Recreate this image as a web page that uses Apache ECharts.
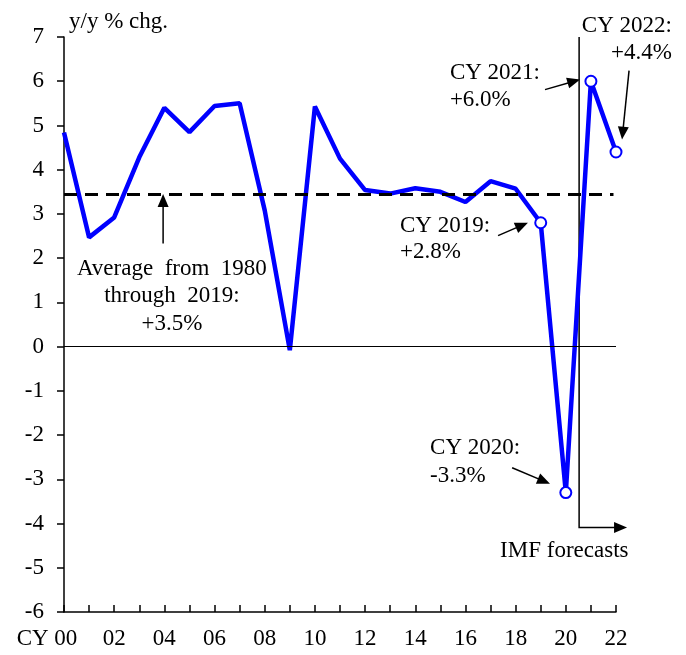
<!DOCTYPE html>
<html>
<head>
<meta charset="utf-8">
<script src="https://cdn.jsdelivr.net/npm/echarts@6/dist/echarts.min.js"></script>
<style>
  html, body { margin: 0; padding: 0; background: #fff; }
  #chart { width: 686px; height: 655px; }
</style>
</head>
<body>
<div id="chart"></div>
<script>
// world real GDP, y/y % chg.
const years = [2000, 2001, 2002, 2003, 2004, 2005, 2006, 2007, 2008, 2009, 2010, 2011,
  2012, 2013, 2014, 2015, 2016, 2017, 2018, 2019, 2020, 2021, 2022]
const growth = [4.84, 2.47, 2.92, 4.28, 5.40, 4.85, 5.44, 5.50, 3.08, -0.08, 5.43, 4.25,
  3.54, 3.46, 3.58, 3.50, 3.27, 3.74, 3.57, 2.8, -3.3, 6.0, 4.4]
const tickLabels = ['00', '', '02', '', '04', '', '06', '', '08', '', '10', '',
  '12', '', '14', '', '16', '', '18', '', '20', '', '22']
const average = 3.45
const firstMarked = 19 // circles from CY 2019 on

const FONT = 'Liberation Serif'
const FS = 23

const chart = echarts.init(document.getElementById('chart'))

const option = {
  animation: false,
  textStyle: { fontFamily: FONT },
  grid: { left: 64, right: 70, top: 37, bottom: 43 },
  xAxis: {
    type: 'value',
    min: 2000,
    max: 2022,
    interval: 1,
    axisLine: { onZero: false, lineStyle: { color: '#000', width: 1.5 } },
    axisTick: { inside: true, length: 7, lineStyle: { color: '#000', width: 1.5 } },
    splitLine: { show: false },
    axisLabel: {
      color: '#000',
      fontSize: FS,
      fontFamily: FONT,
      margin: 15,
      formatter: (v) => {
        const i = years.indexOf(v)
        if (i === 0) return '{cy|CY }' + tickLabels[0] + '{pad| }'
        return i >= 0 ? tickLabels[i] : ''
      },
      rich: {
        cy: { fontSize: FS, fontFamily: FONT, color: '#000' },
        pad: { width: 34, fontSize: FS },
      },
    },
  },
  yAxis: {
    type: 'value',
    min: -6,
    max: 7,
    interval: 1,
    axisLine: { show: true, lineStyle: { color: '#000', width: 1.5 } },
    axisTick: { show: true, length: 7, lineStyle: { color: '#000', width: 1.5 } },
    splitLine: { show: false },
    axisLabel: { color: '#000', fontSize: FS, fontFamily: FONT, margin: 20 },
  },
  series: [
    {
      type: 'line',
      data: years.map((y, i) => [y, growth[i]]),
      lineStyle: { color: '#0000ff', width: 4.5 },
      itemStyle: { color: '#fff', borderColor: '#0000ff', borderWidth: 2 },
      symbol: 'circle',
      showSymbol: true,
      showAllSymbol: true,
      symbolSize: (val, params) => (params.dataIndex >= firstMarked ? 11 : 0),
      z: 3,
      emphasis: { disabled: true },
      markLine: {
        silent: true,
        symbol: 'none',
        label: { show: false },
        animation: false,
        data: [
          [
            { coord: [2000, 0], lineStyle: { color: '#000', width: 1, type: 'solid' } },
            { coord: [2022, 0] },
          ],
          [
            { coord: [2000, average], lineStyle: { color: '#000', width: 3, type: [13, 8] } },
            { coord: [2021.9, average] },
          ],
        ],
      },
    },
  ],
}

chart.setOption(option)

// annotations, placed in data coordinates
const notes = [
  { text: 'y/y % chg.', at: [2000.2, 7.33], align: 'left', lh: 26 },
  { text: 'Average  from  1980\nthrough  2019:\n+3.5%', at: [2004.3, 1.14], align: 'center', lh: 27.5 },
  { text: 'CY 2019:\n+2.8%', at: [2013.39, 2.44], align: 'left', lh: 26 },
  { text: 'CY 2020:\n-3.3%', at: [2014.59, -2.6], align: 'left', lh: 28 },
  { text: 'CY 2021:\n+6.0%', at: [2015.38, 5.89], align: 'left', lh: 27 },
  { text: 'CY 2022:\n+4.4%', at: [2024.23, 6.95], align: 'right', lh: 27 },
  { text: 'IMF forecasts', at: [2017.38, -4.63], align: 'left', lh: 26 },
]

const arrows = [
  [[2003.95, 2.33], [2003.95, 3.45]],
  [[2017.30, 2.51], [2018.49, 2.80]],
  [[2017.86, -2.74], [2019.37, -3.10]],
  [[2019.17, 5.81], [2020.57, 6.04]],
  [[2022.52, 6.24], [2022.24, 4.68]],
]

const forecastPath = [[2020.53, 7], [2020.53, -4.09], [2022.44, -4.09]]

const px = (p) => chart.convertToPixel({ gridIndex: 0 }, p)

function arrowHead(from, to) {
  const dx = to[0] - from[0]
  const dy = to[1] - from[1]
  const len = Math.sqrt(dx * dx + dy * dy)
  const ux = dx / len
  const uy = dy / len
  const L = 13
  const W = 5.5
  const bx = to[0] - ux * L
  const by = to[1] - uy * L
  return {
    type: 'polygon',
    shape: { points: [to, [bx - uy * W, by + ux * W], [bx + uy * W, by - ux * W]] },
    style: { fill: '#000' },
    silent: true,
    z: 10,
  }
}

const graphics = []

notes.forEach((n) => {
  const p = px(n.at)
  graphics.push({
    type: 'text',
    x: p[0],
    y: p[1],
    silent: true,
    z: 10,
    style: {
      text: n.text,
      fill: '#000',
      fontFamily: FONT,
      fontSize: FS,
      align: n.align,
      verticalAlign: 'middle',
      lineHeight: n.lh,
    },
  })
})

arrows.forEach(([a, b]) => {
  const p1 = px(a)
  const p2 = px(b)
  const dx = p2[0] - p1[0]
  const dy = p2[1] - p1[1]
  const len = Math.sqrt(dx * dx + dy * dy)
  // stop the shaft under the head
  const end = [p2[0] - (dx / len) * 8, p2[1] - (dy / len) * 8]
  graphics.push({
    type: 'line',
    shape: { x1: p1[0], y1: p1[1], x2: end[0], y2: end[1] },
    style: { stroke: '#000', lineWidth: 1.5 },
    silent: true,
    z: 10,
  })
  graphics.push(arrowHead(p1, p2))
})

const fp = forecastPath.map(px)
const last = fp[fp.length - 1]
const prev = fp[fp.length - 2]
graphics.push({
  type: 'polyline',
  shape: { points: [fp[0], fp[1], [last[0] - 8, last[1]]] },
  style: { stroke: '#000', lineWidth: 1.5, fill: null },
  silent: true,
  z: 2,
})
graphics.push(arrowHead(prev, last))

chart.setOption({ graphic: graphics })
</script>
</body>
</html>
